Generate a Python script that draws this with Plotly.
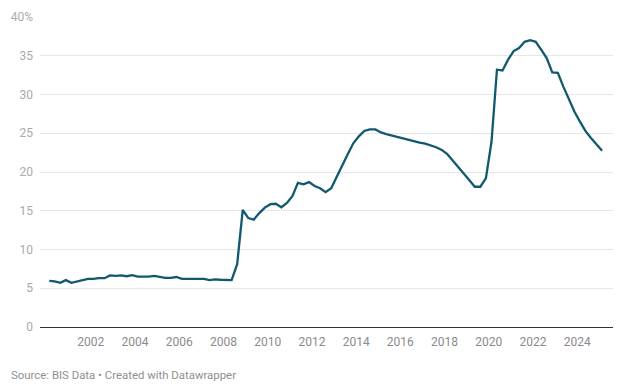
import plotly.graph_objects as go

# Quarterly observations, 2000 Q1 – 2025 Q1 (dates = quarter midpoints)
years = list(range(2000, 2026))
quarter_mid = ["-02-15", "-05-15", "-08-15", "-11-15"]
dates = [f"{y}{m}" for y in years for m in quarter_mid][:101]

values = [
    5.95, 5.9, 5.7, 6.05,      # 2000
    5.7, 5.85, 6.05, 6.2,      # 2001
    6.2, 6.3, 6.3, 6.65,       # 2002
    6.6, 6.65, 6.55, 6.7,      # 2003
    6.5, 6.5, 6.5, 6.6,        # 2004
    6.5, 6.35, 6.35, 6.45,     # 2005
    6.2, 6.2, 6.2, 6.25,       # 2006
    6.2, 6.05, 6.15, 6.1,      # 2007
    6.1, 6.05, 8.1, 15.1,      # 2008
    14.05, 13.85, 14.7, 15.4,  # 2009
    15.85, 15.9, 15.45, 16.0,  # 2010
    16.9, 18.6, 18.4, 18.7,    # 2011
    18.2, 17.9, 17.4, 17.9,    # 2012
    19.4, 20.9, 22.3, 23.7,    # 2013
    24.6, 25.3, 25.5, 25.5,    # 2014
    25.1, 24.9, 24.7, 24.5,    # 2015
    24.35, 24.2, 24.0, 23.8,   # 2016
    23.65, 23.45, 23.2, 22.85, # 2017
    22.3, 21.5, 20.6, 19.8,    # 2018
    18.95, 18.1, 18.1, 19.2,   # 2019
    23.9, 33.2, 33.1, 34.5,    # 2020
    35.6, 36.0, 36.8, 37.0,    # 2021
    36.8, 35.8, 34.7, 32.85,   # 2022
    32.8, 31.05, 29.3, 27.8,   # 2023
    26.5, 25.3, 24.4, 23.6,    # 2024
    22.75,                     # 2025
]

x_tick_vals = [f"{y}-01-01" for y in range(2002, 2026, 2)]
x_tick_text = [str(y) for y in range(2002, 2026, 2)]
y_tick_vals = [0, 5, 10, 15, 20, 25, 30, 35, 40]
y_tick_text = ["0", "5", "10", "15", "20", "25", "30", "35", "40%"]

source_text = "Source: BIS Data • Created with Datawrapper"

fig = go.Figure()
fig.add_trace(go.Scatter(
    x=dates, y=values, mode="lines",
    line=dict(color="#12596f", width=2.3),
    hoverinfo="x+y", showlegend=False,
))

# page body has an 8px default margin, so the figure is 8px smaller
fig.update_layout(
    width=615, height=384,
    margin=dict(l=32, r=10, t=9, b=65, autoexpand=False),
    paper_bgcolor="white", plot_bgcolor="white",
    font=dict(family="Roboto, sans-serif", size=12, color="#999999"),
    xaxis=dict(
        type="date", automargin=False,
        range=["1999-09-15", "2025-08-14"],
        tickmode="array", tickvals=x_tick_vals, ticktext=x_tick_text,
        showgrid=False, zeroline=False, showline=False,
        ticks="", ticklabelstandoff=6,
        tickfont=dict(color="#8a8a8a", size=12),
    ),
    yaxis=dict(
        range=[0, 40], automargin=False,
        tickmode="array", tickvals=y_tick_vals, ticktext=y_tick_text,
        showgrid=True, gridcolor="#e6e6e6", gridwidth=1,
        zeroline=True, zerolinecolor="#333333", zerolinewidth=1.3,
        showline=False, ticks="", ticklabelstandoff=6,
        tickfont=dict(color="#aaaaaa", size=12),
    ),
    annotations=[dict(
        text=source_text, xref="paper", yref="paper",
        x=-31 / 573, y=-0.154, xanchor="left", yanchor="middle",
        showarrow=False, font=dict(size=11.4, color="#8f8f8f"),
    )],
)

fig.write_html("out.html")
